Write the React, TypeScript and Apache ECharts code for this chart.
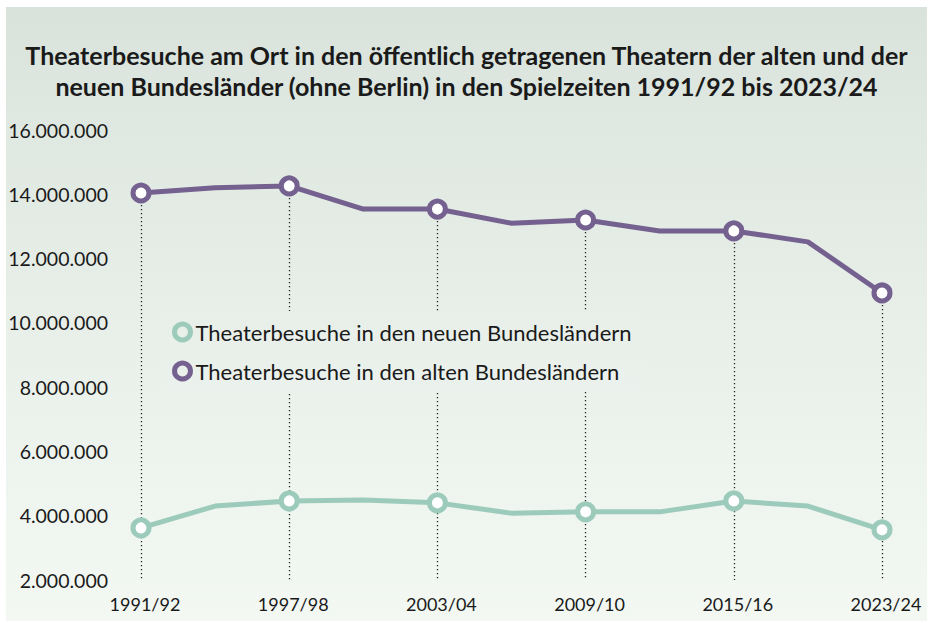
import React, { useEffect, useRef } from "react";
import * as echarts from "echarts";

const categories = [
  "1991/92", "1994/95", "1997/98", "2000/01", "2003/04", "2006/07",
  "2009/10", "2012/13", "2015/16", "2019/20", "2023/24",
];
const neueBL = [3620000, 4300000, 4460000, 4490000, 4400000, 4080000, 4120000, 4120000, 4460000, 4300000, 3560000];
const alteBL = [14040000, 14200000, 14260000, 13540000, 13540000, 13100000, 13200000, 12860000, 12860000, 12520000, 10930000];
const yMin = 2000000;
const yMax = 16000000;
const yStep = 2000000;

const seriesNames = [
  "Theaterbesuche in den neuen Bundesländern",
  "Theaterbesuche in den alten Bundesländern",
];
const titleText =
  "Theaterbesuche am Ort in den öffentlich getragenen Theatern der alten und der\nneuen Bundesländer (ohne Berlin) in den Spielzeiten 1991/92 bis 2023/24";

const GREEN = "#9ccbbc";
const PURPLE = "#75618f";
const TEXT = "#1a1a1a";
const FONT = "Lato, 'Open Sans', sans-serif";

function fmt(v: number): string {
  return String(v).replace(/\B(?=(\d{3})+(?!\d))/g, ".");
}

export default function App() {
  const ref = useRef<HTMLDivElement>(null);
  useEffect(() => {
    if (!ref.current) return;
    const chart = echarts.init(ref.current, undefined, { renderer: "svg" });
    const bgGrad = new echarts.graphic.LinearGradient(
      0, 0, 0, 1,
      [
        { offset: 0, color: "#d9e3dc" },
        { offset: 0.5, color: "#e8efe9" },
        { offset: 1, color: "#f3f8f3" },
      ]
    );
    const legendGrad = new echarts.graphic.LinearGradient(
      0, 0, 0, 1,
      [
        { offset: 0, color: "#e8efe9" },
        { offset: 1, color: "#ebf1ec" },
      ]
    );
    const markData = categories
      .map((c, i) => ({ c, i }))
      .filter((d) => d.i % 2 === 0)
      .map((d) => [
        { coord: [d.c, alteBL[d.i]] },
        { coord: [d.c, yMin] },
      ]);
    const showSym = (_v: any, p: any) => (p.dataIndex % 2 === 0 ? "circle" : "none");
    chart.setOption({
      animation: false,
      textStyle: { fontFamily: FONT, color: TEXT },
      graphic: [
        {
          type: "rect",
          z: -10,
          silent: true,
          shape: { x: 6, y: 7, width: 921, height: 614 },
          style: { fill: bgGrad },
        },
      ],
      title: {
        text: titleText,
        left: "center",
        top: 34,
        textStyle: {
          fontFamily: FONT,
          fontSize: 25,
          fontWeight: "bold",
          color: TEXT,
          lineHeight: 31,
        },
      },
      legend: {
        orient: "vertical",
        left: 164,
        top: 311,
        padding: [10, 10, 10, 8],
        itemGap: 17,
        itemWidth: 16,
        itemHeight: 16,
        icon: "circle",
        backgroundColor: legendGrad,
        textStyle: { fontFamily: FONT, fontSize: 22, color: TEXT },
        data: [
          {
            name: seriesNames[0],
            itemStyle: { color: "rgba(0,0,0,0)", borderColor: GREEN, borderWidth: 5 },
          },
          {
            name: seriesNames[1],
            itemStyle: { color: "rgba(0,0,0,0)", borderColor: PURPLE, borderWidth: 5 },
          },
        ],
      },
      grid: { left: 141, right: 51, top: 130, bottom: 43, containLabel: false },
      xAxis: {
        type: "category",
        data: categories,
        boundaryGap: false,
        axisLine: { show: false },
        axisTick: { show: false },
        splitLine: { show: false },
        axisLabel: {
          interval: 1,
          margin: 15,
          fontSize: 18,
          fontFamily: FONT,
          color: TEXT,
          padding: [0, 0, 0, 8],
        },
      },
      yAxis: {
        type: "value",
        min: yMin,
        max: yMax,
        interval: yStep,
        axisLine: { show: false },
        axisTick: { show: false },
        splitLine: { show: false },
        axisLabel: {
          margin: 33,
          fontSize: 19.5,
          fontFamily: FONT,
          color: TEXT,
          formatter: (v: number) => fmt(v),
        },
      },
      series: [
        {
          type: "line",
          name: "guides",
          data: [],
          z: 1,
          silent: true,
          markLine: {
            z: 1,
            silent: true,
            symbol: ["none", "none"],
            label: { show: false },
            lineStyle: { color: "#222", width: 1.3, type: [1.3, 2.7] },
            emphasis: { disabled: true },
            data: markData,
          },
        },
        {
          type: "line",
          name: seriesNames[0],
          data: neueBL,
          z: 3,
          symbol: showSym,
          symbolSize: 16,
          lineStyle: { color: GREEN, width: 5 },
          itemStyle: { color: "#ffffff", borderColor: GREEN, borderWidth: 5 },
        },
        {
          type: "line",
          name: seriesNames[1],
          data: alteBL,
          z: 3,
          symbol: showSym,
          symbolSize: 16,
          lineStyle: { color: PURPLE, width: 5 },
          itemStyle: { color: "#ffffff", borderColor: PURPLE, borderWidth: 5 },
        },
      ],
    });
    return () => chart.dispose();
  }, []);
  return (
    <div
      ref={ref}
      style={{ position: "absolute", left: 0, top: 0, width: 933, height: 623, background: "#ffffff" }}
    />
  );
}
